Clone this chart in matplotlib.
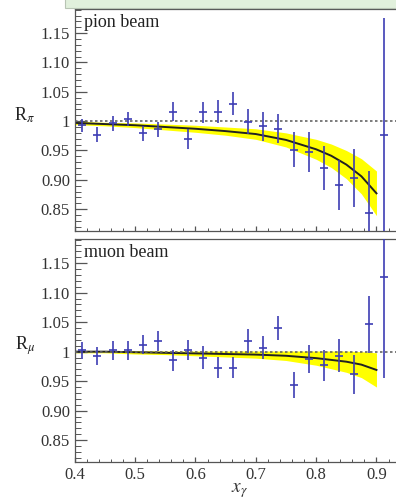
import matplotlib
matplotlib.use('Agg')
import matplotlib.pyplot as plt
from matplotlib.patches import Rectangle
from matplotlib.ticker import MultipleLocator

plt.rcParams['font.family'] = ['Liberation Serif', 'DejaVu Serif']
plt.rcParams['mathtext.fontset'] = 'stix'

# bin centres in x_gamma
xg = [0.4125, 0.4375, 0.4625, 0.4875, 0.5125, 0.5375, 0.5625, 0.5875, 0.6125, 0.6375, 0.6625,
      0.6875, 0.7125, 0.7375, 0.7625, 0.7875, 0.8125, 0.8375, 0.8625, 0.8875, 0.9125]

pion_r = [0.993, 0.977, 0.996, 1.004, 0.979, 0.986, 1.016, 0.970, 1.015, 1.016, 1.030,
          0.999, 0.991, 0.987, 0.951, 0.948, 0.920, 0.891, 0.903, 0.843, 0.976]
pion_err = [0.011, 0.013, 0.012, 0.012, 0.012, 0.013, 0.016, 0.017, 0.018, 0.020, 0.020,
            0.021, 0.024, 0.025, 0.030, 0.034, 0.037, 0.043, 0.050, 0.072, 0.200]

muon_r = [1.002, 0.993, 1.002, 1.002, 1.012, 1.018, 0.985, 1.003, 0.990, 0.973, 0.973,
          1.018, 1.007, 1.040, 0.944, 0.987, 0.977, 0.993, 0.962, 1.046, 1.126]
muon_err = [0.015, 0.015, 0.016, 0.016, 0.016, 0.017, 0.017, 0.017, 0.020, 0.018, 0.018,
            0.021, 0.020, 0.020, 0.022, 0.024, 0.026, 0.028, 0.033, 0.049, 0.170]

# fitted curves and their bands
fit_x = [0.40, 0.45, 0.50, 0.55, 0.60, 0.65, 0.70, 0.75, 0.80, 0.825, 0.85, 0.875, 0.90]
pion_fit = [0.997, 0.995, 0.993, 0.990, 0.987, 0.983, 0.978, 0.968, 0.952, 0.941, 0.926, 0.906, 0.877]
pion_band = [0.003, 0.003, 0.004, 0.005, 0.006, 0.007, 0.009, 0.012, 0.017, 0.020, 0.024, 0.030, 0.038]
muon_fit = [1.000, 1.000, 0.999, 0.998, 0.997, 0.996, 0.995, 0.993, 0.989, 0.986, 0.983, 0.978, 0.969]
muon_band = [0.002, 0.002, 0.003, 0.003, 0.004, 0.005, 0.006, 0.008, 0.012, 0.015, 0.018, 0.022, 0.029]

yticks = [0.85, 0.90, 0.95, 1.0, 1.05, 1.10, 1.15]
ylabels = ['0.85', '0.90', '0.95', '1', '1.05', '1.10', '1.15']
xticks = [0.4, 0.5, 0.6, 0.7, 0.8, 0.9]
xlabels = ['0.4', '0.5', '0.6', '0.7', '0.8', '0.9']

fig = plt.figure(figsize=(3.96, 5.03), dpi=100)

# light green strip at the top of the screenshot
fig.patches.append(Rectangle((0.164, 0.984), 0.84, 0.02, transform=fig.transFigure,
                             facecolor='#e1f0dc', edgecolor='#b8c4b4', lw=0.8))

ax1 = fig.add_axes([0.189, 0.541, 0.815, 0.441])
ax2 = fig.add_axes([0.189, 0.0815, 0.815, 0.4435])

blue = '#3c3cb4'

def panel(ax, r, err, fit, band, label, ylab, show_x):
    lo = [f - b for f, b in zip(fit, band)]
    hi = [f + b for f, b in zip(fit, band)]
    ax.fill_between(fit_x, lo, hi, color='#ffff00', lw=0, zorder=1)
    ax.plot(fit_x, fit, color='#222222', lw=1.4, zorder=2)
    ax.axhline(1.0, color='#666666', ls=(0, (1.5, 1.5)), lw=1.2, zorder=3)
    ax.errorbar(xg, r, yerr=err, fmt='_', color=blue, ecolor=blue, elinewidth=1.4,
                markersize=6, mew=1.4, capsize=0, zorder=4, alpha=0.85)
    ax.set_xlim(0.4, 0.935)
    ax.set_ylim(0.813, 1.191)
    ax.set_yticks(yticks)
    ax.set_yticklabels(ylabels, fontsize=12, color='#333333')
    ax.yaxis.set_minor_locator(MultipleLocator(0.01))
    ax.set_xticks(xticks)
    ax.xaxis.set_minor_locator(MultipleLocator(0.02))
    if show_x:
        ax.set_xticklabels(xlabels, fontsize=12, color='#333333')
    else:
        ax.set_xticklabels([])
    ax.tick_params(axis='y', which='major', direction='in', length=8.5, width=0.9, color='#555555')
    ax.tick_params(axis='y', which='minor', direction='in', length=4.5, width=0.7, color='#555555')
    ax.tick_params(axis='x', which='major', direction='in', length=3.5, width=0.9, color='#555555')
    ax.tick_params(axis='x', which='minor', direction='in', length=2, width=0.7, color='#555555')
    ax.tick_params(right=False, top=False)
    for s in ax.spines.values():
        s.set_color('#555555')
        s.set_linewidth(0.9)
    ax.text(0.028, 0.94, label, transform=ax.transAxes, fontsize=13, color='#222222',
            va='center', ha='left')
    ax.text(-0.155, 0.52, ylab, transform=ax.transAxes, fontsize=13, color='#222222',
            va='center', ha='center')

panel(ax1, pion_r, pion_err, pion_fit, pion_band, 'pion beam', r'R$_\pi$', False)
panel(ax2, muon_r, muon_err, muon_fit, muon_band, 'muon beam', r'R$_\mu$', True)

fig.text(0.605, 0.022, r'$x_\gamma$', fontsize=14, color='#333333', ha='center')

fig.savefig('out.png', dpi=100)
